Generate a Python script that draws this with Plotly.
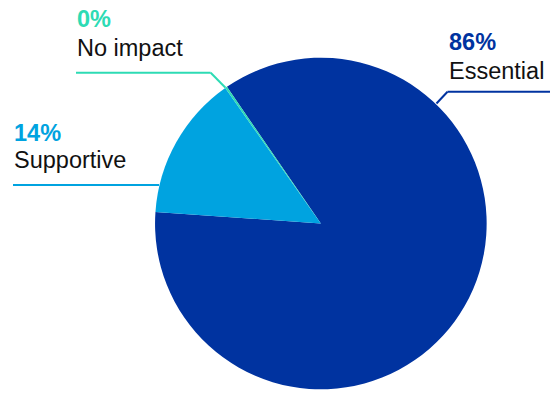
import plotly.graph_objects as go

W, H = 550, 394

categories = ["Essential", "Supportive", "No impact"]
values = [85.7, 14.1, 0.2]
pct_labels = ["86%", "14%", "0%"]
colors = ["#0033A0", "#00A3E0", "#2DDBB4"]

def px(x):
    return x / W

def py(y):
    return 1 - y / H

fig = go.Figure(go.Pie(
    labels=categories,
    values=values,
    sort=False,
    direction="clockwise",
    rotation=-34.5,
    marker=dict(colors=colors, line=dict(width=0)),
    textinfo="none",
    hoverinfo="label+percent",
    domain=dict(x=[px(155), px(486.7)], y=[py(389.3), py(57.7)]),
    showlegend=False,
))

FONT = "Liberation Sans, Arial, Helvetica, sans-serif"
FS = 23.5

# label positions (left x, center y of pct line, center y of name line)
label_pos = {
    "Essential": (446.5, 42, 71),
    "Supportive": (12, 133, 160),
    "No impact": (75, 19, 48),
}

annotations = []
for cat, pct, col in zip(categories, pct_labels, colors):
    x, y1, y2 = label_pos[cat]
    annotations.append(dict(
        x=px(x), y=py(y1), xref="paper", yref="paper",
        xanchor="left", yanchor="middle", showarrow=False,
        text="<b>" + pct + "</b>",
        font=dict(family=FONT, size=FS, color=col),
    ))
    annotations.append(dict(
        x=px(x), y=py(y2), xref="paper", yref="paper",
        xanchor="left", yanchor="middle", showarrow=False,
        text=cat,
        font=dict(family=FONT, size=FS, color="#111111"),
    ))

# leader lines (polyline points in pixels)
leaders = {
    "Essential": [(436.5, 103.5), (447.5, 91.7), (550, 91.7)],
    "Supportive": [(13, 185), (159, 185)],
    "No impact": [(76, 72.7), (210.7, 72.7), (225.5, 87.8)],
}

shapes = []
for cat, col in zip(categories, colors):
    pts = leaders[cat]
    for (x0, y0), (x1, y1) in zip(pts[:-1], pts[1:]):
        shapes.append(dict(
            type="line", xref="paper", yref="paper",
            x0=px(x0), y0=py(y0), x1=px(x1), y1=py(y1),
            line=dict(color=col, width=2),
        ))

fig.update_layout(
    width=W, height=H,
    margin=dict(l=0, r=0, t=0, b=0),
    paper_bgcolor="white",
    plot_bgcolor="white",
    annotations=annotations,
    shapes=shapes,
)

fig.write_html(
    "out.html",
    config={"displayModeBar": False},
    post_script="document.body.style.margin='0';document.body.style.overflow='hidden';",
)
